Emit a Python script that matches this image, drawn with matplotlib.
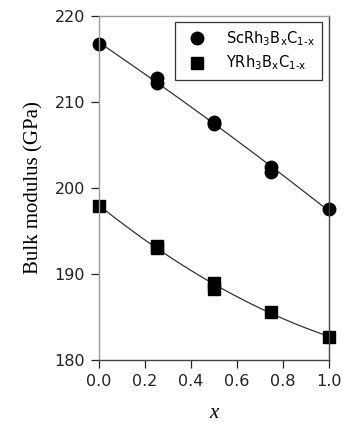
import numpy as np
from matplotlib import pyplot as plt

# composition x and bulk modulus (GPa)
x_sc = [0.0, 0.25, 0.25, 0.5, 0.5, 0.75, 0.75, 1.0]
b_sc = [216.7, 212.8, 212.2, 207.7, 207.4, 202.5, 201.9, 197.6]
x_y = [0.0, 0.25, 0.25, 0.5, 0.5, 0.75, 1.0]
b_y = [197.9, 193.3, 193.0, 189.0, 188.3, 185.6, 182.7]

labels = [r"ScRh$_3$B$_x$C$_{1\text{-}x}$", r"YRh$_3$B$_x$C$_{1\text{-}x}$"]

plt.rcParams['mathtext.default'] = 'regular'
plt.rcParams['font.family'] = ['DejaVu Sans']

fig = plt.figure(figsize=(3.43, 4.24), dpi=100)
ax = fig.add_axes([0.289, 0.151, 0.670, 0.811])

# smooth fit curves through the points
xf = np.linspace(0, 1, 100)
p_sc = np.polyfit(x_sc, b_sc, 2)
p_y = np.polyfit(x_y, b_y, 2)
ax.plot(xf, np.polyval(p_sc, xf), color='#333333', lw=0.9)
ax.plot(xf, np.polyval(p_y, xf), color='#333333', lw=0.9)

ax.plot(x_sc, b_sc, 'o', color='black', ms=9, ls='none', label=labels[0], clip_on=False)
ax.plot(x_y, b_y, 's', color='black', ms=9, ls='none', label=labels[1], clip_on=False)

ax.set_xlim(0, 1)
ax.set_ylim(180, 220)
ax.set_xticks([0, 0.2, 0.4, 0.6, 0.8, 1.0])
ax.set_xticklabels(['0.0', '0.2', '0.4', '0.6', '0.8', '1.0'])
ax.set_yticks([180, 190, 200, 210, 220])
ax.tick_params(direction='out', length=6, width=0.9, labelsize=11.5, colors='#222222', pad=4)
ax.tick_params(top=False, right=False)
for s in ['left', 'top']:
    ax.spines[s].set_color('#999999')
ax.spines['right'].set_color('#444444')
ax.spines['bottom'].set_color('#444444')
for s in ax.spines.values():
    s.set_linewidth(1.0)

ax.set_ylabel('Bulk modulus (GPa)', family='Liberation Serif', fontsize=15, labelpad=8)
ax.set_xlabel('x', family='Liberation Serif', style='italic', fontsize=15, labelpad=11)

leg = ax.legend(loc='upper right', bbox_to_anchor=(0.97, 0.983), borderaxespad=0,
                fontsize=10.5, frameon=True, fancybox=False, edgecolor='black',
                handletextpad=1.0, borderpad=0.5, labelspacing=0.4, handlelength=2.0)
leg.get_frame().set_linewidth(0.9)

fig.savefig('out.png', dpi=100)
